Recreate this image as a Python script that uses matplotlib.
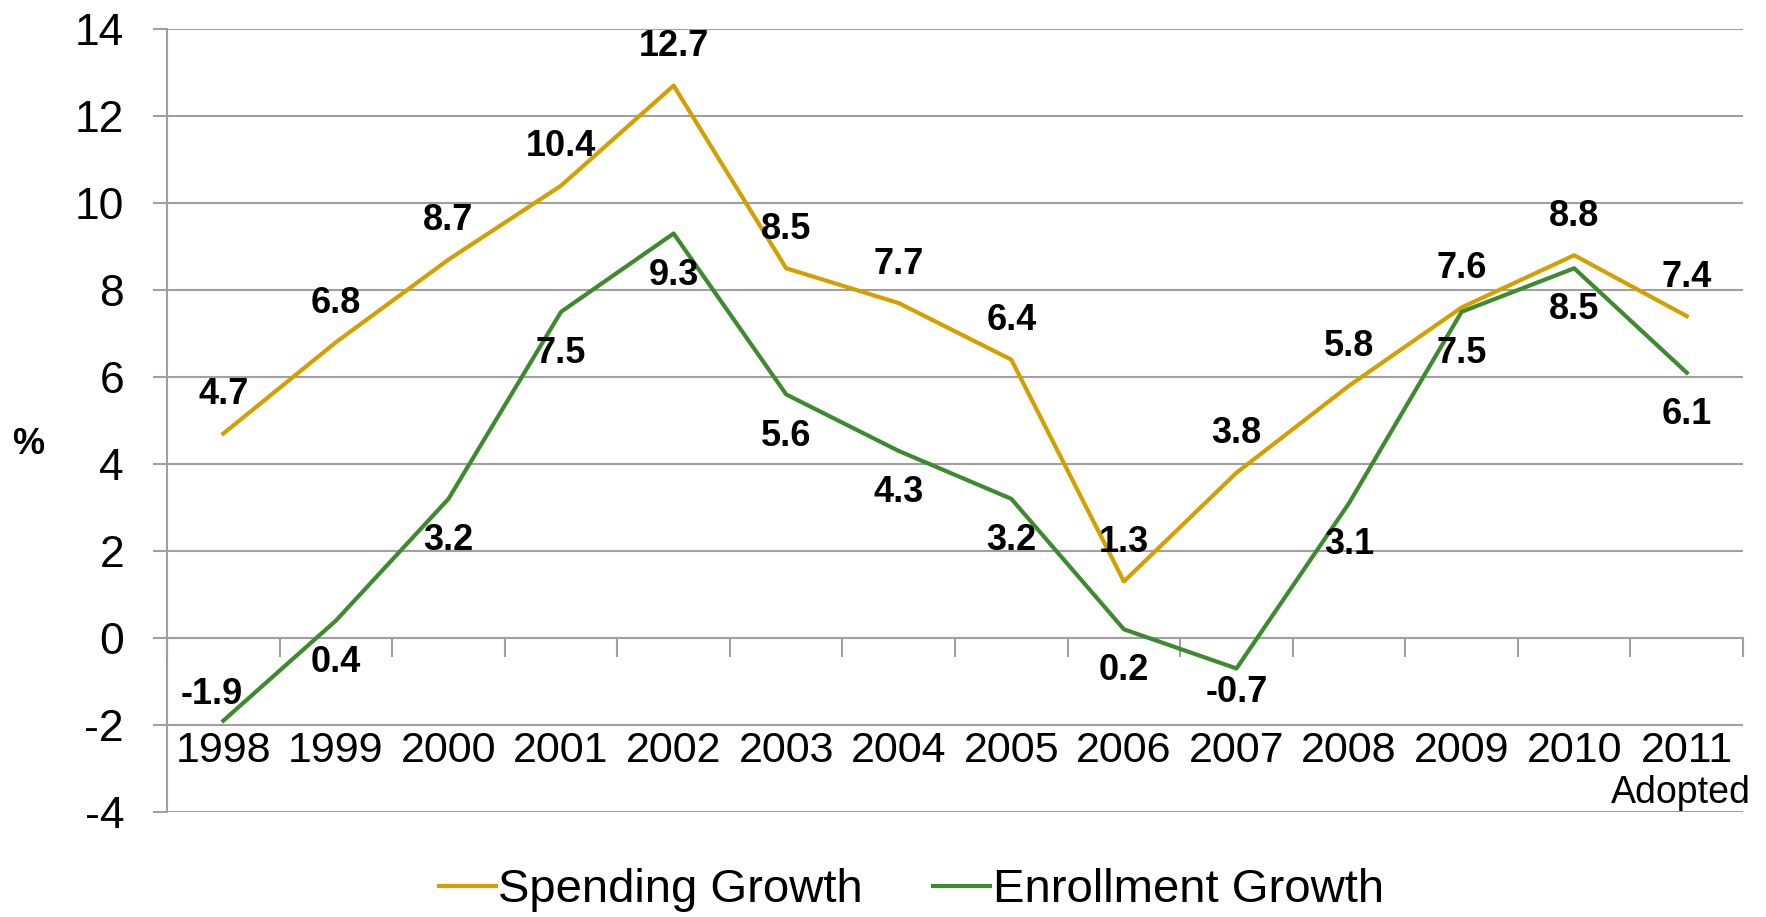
import matplotlib
matplotlib.use("Agg")
import matplotlib.pyplot as plt
from matplotlib.ticker import MultipleLocator, FixedLocator

plt.rcParams['font.family'] = ['Liberation Sans', 'DejaVu Sans']
plt.rcParams['axes.unicode_minus'] = False

# data
years = ['1998', '1999', '2000', '2001', '2002', '2003', '2004',
         '2005', '2006', '2007', '2008', '2009', '2010', '2011']
spending = [4.7, 6.8, 8.7, 10.4, 12.7, 8.5, 7.7, 6.4, 1.3, 3.8, 5.8, 7.6, 8.8, 7.4]
enrollment = [-1.9, 0.4, 3.2, 7.5, 9.3, 5.6, 4.3, 3.2, 0.2, -0.7, 3.1, 7.5, 8.5, 6.1]

gold = '#D3A000'
green = '#3E8A2E'
grid_col = '#A0A0A0'

fig = plt.figure(figsize=(17.66, 9.17), dpi=100)
ax = fig.add_axes([0.0946, 0.1145, 0.8924, 0.8538])

x = list(range(len(years)))
ax.plot(x, spending, color=gold, lw=3, label='Spending Growth', zorder=3)
ax.plot(x, enrollment, color=green, lw=3, label='Enrollment Growth', zorder=3)

ax.set_xlim(-0.5, len(years) - 0.5)
ax.set_ylim(-4, 14)
ax.yaxis.set_major_locator(MultipleLocator(2))
ax.grid(axis='y', color=grid_col, lw=1.5, zorder=0)

for s in ['top', 'right']:
    ax.spines[s].set_visible(False)
ax.spines['left'].set_color(grid_col)
ax.spines['left'].set_linewidth(1.5)
ax.spines['bottom'].set_position(('data', 0))
ax.spines['bottom'].set_color(grid_col)
ax.spines['bottom'].set_linewidth(1.5)

ax.set_xticks(x)
ax.set_xticklabels(years)
ax.xaxis.set_minor_locator(FixedLocator([i - 0.5 for i in range(len(years) + 1)]))
ax.tick_params(axis='x', which='major', length=0, pad=67, labelsize=31)
ax.tick_params(axis='x', which='minor', length=14, width=1.5, color=grid_col, direction='out')
ax.tick_params(axis='y', length=10, width=1.5, color=grid_col, pad=21, labelsize=32)

# data labels
for xi, v in zip(x, spending):
    ax.annotate(f'{v:.1f}', (xi, v), xytext=(0, 28), textcoords='offset points',
                ha='center', va='center', fontsize=26, fontweight='bold')
for xi, v in zip(x, enrollment):
    if xi == 0:
        off = (-8, 19)
    elif v < 0:
        off = (0, -17)
    else:
        off = (0, -30)
    ax.annotate(f'{v:.1f}', (xi, v), xytext=off, textcoords='offset points',
                ha='center', va='center', fontsize=26, fontweight='bold')

ax.text(13.57, -3.56, 'Adopted', ha='right', va='center', fontsize=27)
fig.text(0.016, 0.515, '%', ha='center', va='center', fontsize=26, fontweight='bold')

fig.legend(loc='center', bbox_to_anchor=(0.516, 0.029), ncol=2, frameon=False,
           fontsize=34, handlelength=1.2, handletextpad=0.05, columnspacing=1.5)

fig.savefig('out.png', dpi=100)
